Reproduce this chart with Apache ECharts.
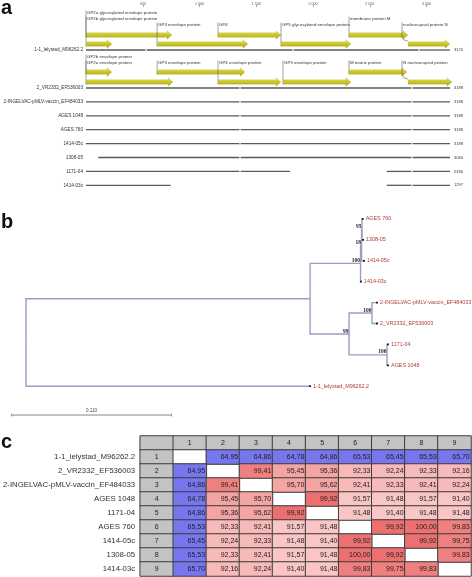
<!DOCTYPE html>
<html><head><meta charset="utf-8">
<script src="https://cdn.jsdelivr.net/npm/echarts@6/dist/echarts.min.js"></script>
<style>html,body{margin:0;padding:0;background:#fff}#c{width:472px;height:577px}</style>
</head><body><div id="c"></div>
<script>
// ================= DATA =================
// Panel a: alignment ruler, sequences, coverage segments, gene annotations
const rulerTicks = [500, 1000, 1500, 2000, 2500, 3000];
const seqNames = ['1-1_lelystad_M96262.2','2_VR2332_EF536003','2-INGELVAC-pMLV-vaccin_EF484033','AGES 1048','AGES 760','1414-05c','1308-05','1171-04','1414-03c'];
const seqLengths = [3170, 3188, 3188, 3188, 3188, 3188, 3084, 2336, 1297];
const seqSegments = [
  [[0,524],[534,1819],[1829,2929],[2939,3207]],
  [[0,1352],[1362,2867],[2877,3207]],
  [[0,1352],[1362,2867],[2877,3207]],
  [[0,1352],[1362,2867],[2877,3207]],
  [[0,1352],[1362,2867],[2877,3207]],
  [[0,1352],[1362,2867],[2877,3207]],
  [[108,1352],[1362,2867],[2877,3207]],
  [[0,1352],[1362,1797],[2650,2867],[2877,3207]],
  [[0,746],[2650,2867],[2877,3207]]
];
const lelystadGenes = [
  ['GP2a glycosylated envelope protein', 0, 758],
  ['GP2b glycosylated envelope protein', 0, 229],
  ['GP3 envelope protein', 626, 1427],
  ['GP4', 1163, 1718],
  ['GP5 glycosylated envelope protein', 1718, 2335],
  ['membrane protein M', 2317, 2837],
  ['nucleocapsid protein N', 2837, 3207]
];
const vr2332Genes = [
  ['GP2b envelope protein', 0, 229],
  ['GP2a envelope protein', 0, 767],
  ['GP3 envelope protein', 626, 1401],
  ['GP4 envelope protein', 1163, 1718],
  ['GP5 envelope protein', 1736, 2335],
  ['M matrix protein', 2317, 2828],
  ['N nucleocapsid protein', 2837, 3225]
];

// Panel b: phylogenetic tree
const treeLeaves = ['AGES 760','1308-05','1414-05c','1414-03c','2-INGELVAC-pMLV-vaccin_EF484033','2_VR2332_EF536003','1171-04','AGES 1048','1-1_lelystad_M96262.2'];
const treeLeafDepth = [0.2315, 0.2317, 0.2324, 0.2303, 0.2413, 0.2413, 0.2489, 0.2489, 0.1953];
const treeChildren = [['L0','L1'], ['N0','L2'], ['N1','L3'], ['L4','L5'], ['L6','L7'], ['N3','N4'], ['N2','N5'], ['N6','L8']];
const treeNodeDepth = [0.2310, 0.2307, 0.2300, 0.2379, 0.2482, 0.2221, 0.1953, 0];
const treeBootstrap = [95, 18, 100, 100, 100, 99, null, null];
const scaleBarLength = 0.110;
const scaleBarLabel = '0,110';

// Panel c: identity table
const tableNames = ['1-1_lelystad_M96262.2','2_VR2332_EF536003','2-INGELVAC-pMLV-vaccin_EF484033','AGES 1048','1171-04','AGES 760','1414-05c','1308-05','1414-03c'];
const identity = [
  [null,64.95,64.86,64.78,64.86,65.53,65.45,65.53,65.70],
  [64.95,null,99.41,95.45,95.36,92.33,92.24,92.33,92.16],
  [64.86,99.41,null,95.70,95.62,92.41,92.33,92.41,92.24],
  [64.78,95.45,95.70,null,99.92,91.57,91.48,91.57,91.40],
  [64.86,95.36,95.62,99.92,null,91.48,91.40,91.48,91.48],
  [65.53,92.33,92.41,91.57,91.48,null,99.92,100.00,99.83],
  [65.45,92.24,92.33,91.48,91.40,99.92,null,99.92,99.75],
  [65.53,92.33,92.41,91.57,91.48,100.00,99.92,null,99.83],
  [65.70,92.16,92.24,91.40,91.48,99.83,99.75,99.83,null]
];

// ================= LAYOUT / STYLE =================
const FONT = '"Liberation Sans", Arial, sans-serif';
const PX_PER_BP = 0.1135;
const A_MAX = 3230;
const seqRowY = seqNames.map((n, i) => i === 0 ? 50 : 88 + (i - 1) * 13.9);
const genomeTracks = [
  {genes: lelystadGenes, laneY: [35, 44], levelY: [13, 19, 25], lanes: [0,1,1,0,1,0,1], levels: [0,1,2,2,2,1,2]},
  {genes: vr2332Genes, laneY: [72, 82], levelY: [57, 63], lanes: [0,1,0,1,1,0,1], levels: [0,1,1,1,1,1,1]}
];
const TREE_PX_PER_UNIT = 160 / 0.110;
const TREE_XMIN = -0.01, TREE_XMAX = 0.30;
const TREE_ROW = 20.9, TREE_YMIN = -0.5, TREE_YMAX = 9.8;
const SCALE_BAR_ROW = 9.38;

// ================= BUILD =================
const seqLineData = [];
seqSegments.forEach((segs, i) => segs.forEach(s => seqLineData.push([s[0], s[1], i])));
const geneData = [];
genomeTracks.forEach((t, ti) => t.genes.forEach((g, k) => geneData.push([g[1], g[2], ti, k])));

const nodeX = {}, nodeY = {};
treeLeaves.forEach((n, i) => { nodeX['L' + i] = treeLeafDepth[i]; nodeY['L' + i] = i; });
function placeNode(k) {
  if (nodeY['N' + k] !== undefined) return;
  const ch = treeChildren[k];
  ch.forEach(c => { if (c[0] === 'N') placeNode(+c.slice(1)); });
  nodeX['N' + k] = treeNodeDepth[k];
  nodeY['N' + k] = (nodeY[ch[0]] + nodeY[ch[ch.length - 1]]) / 2;
}
treeChildren.forEach((_, k) => placeNode(k));
const treeEdges = [];
treeChildren.forEach((ch, k) => ch.forEach(c => treeEdges.push({
  coords: [[nodeX['N' + k], nodeY['N' + k]], [nodeX['N' + k], nodeY[c]], [nodeX[c], nodeY[c]]]
})));
const bootData = [];
treeBootstrap.forEach((b, k) => { if (b !== null) bootData.push([nodeX['N' + k], nodeY['N' + k], b]); });

const headerData = [[0, 0, 0]];
for (let j = 1; j <= 9; j++) headerData.push([j, 0, j]);
for (let i = 1; i <= 9; i++) headerData.push([0, i, i]);
const diagData = [], valueData = [];
identity.forEach((row, i) => row.forEach((v, j) => {
  if (v === null) diagData.push([j + 1, i + 1, 0]);
  else valueData.push([j + 1, i + 1, v]);
}));

const chart = echarts.init(document.getElementById('c'));
const arrowFill = new echarts.graphic.LinearGradient(0, 0, 0, 1, [
  {offset: 0, color: '#e6e37a'}, {offset: 0.45, color: '#cdc92c'}, {offset: 1, color: '#aaa410'}
]);

chart.setOption({
  animation: false,
  grid: [
    {left: 86, top: 7, width: A_MAX * PX_PER_BP, height: 183},
    {left: 26 + TREE_XMIN * TREE_PX_PER_UNIT, top: 219 + TREE_YMIN * TREE_ROW,
     width: (TREE_XMAX - TREE_XMIN) * TREE_PX_PER_UNIT, height: (TREE_YMAX - TREE_YMIN) * TREE_ROW},
    {left: 133, top: 436, width: 338, height: 140}
  ],
  xAxis: [
    {gridIndex: 0, type: 'value', position: 'top', min: 0, max: A_MAX,
     axisLine: {show: false}, splitLine: {show: false},
     axisTick: {show: true, customValues: rulerTicks, length: 2, lineStyle: {color: '#666', width: 0.6}},
     axisLabel: {customValues: rulerTicks, fontSize: 3.6, color: '#555', margin: 1, fontFamily: FONT,
       formatter: v => String(v).replace(/(\d)(\d{3})$/, '$1 $2')}},
    {gridIndex: 1, type: 'value', min: TREE_XMIN, max: TREE_XMAX, show: false},
    {gridIndex: 2, type: 'category', data: ['', '1','2','3','4','5','6','7','8','9'], show: false}
  ],
  yAxis: [
    {gridIndex: 0, type: 'value', min: 7, max: 190, inverse: true, show: false},
    {gridIndex: 1, type: 'value', min: TREE_YMIN, max: TREE_YMAX, inverse: true, show: false},
    {gridIndex: 2, type: 'category', data: [''].concat(tableNames), inverse: true,
     axisLine: {show: false}, axisTick: {show: false}, splitLine: {show: false},
     axisLabel: {fontSize: 7.8, color: '#333', margin: 5, fontFamily: FONT}}
  ],
  visualMap: {
    type: 'piecewise', show: false, seriesIndex: 9, dimension: 2,
    pieces: [
      {lt: 70, color: '#7676ee'},
      {gte: 90, lt: 92, color: '#fac5c5'},
      {gte: 92, lt: 94, color: '#f8b9b9'},
      {gte: 94, lt: 97, color: '#f5a4a4'},
      {gte: 97, lt: 99.9, color: '#f08080'},
      {gte: 99.9, color: '#ec7070'}
    ]
  },
  graphic: [
    {type: 'text', style: {x: 1, y: 18, text: 'a', font: 'bold 20px ' + FONT, fill: '#111', textVerticalAlign: 'bottom'}},
    {type: 'text', style: {x: 1, y: 232, text: 'b', font: 'bold 20px ' + FONT, fill: '#111', textVerticalAlign: 'bottom'}},
    {type: 'text', style: {x: 1, y: 452, text: 'c', font: 'bold 20px ' + FONT, fill: '#111', textVerticalAlign: 'bottom'}}
  ],
  series: [
    // 0 sequence coverage lines
    {type: 'custom', xAxisIndex: 0, yAxisIndex: 0, data: seqLineData, silent: true,
     renderItem: (params, api) => {
       const y = seqRowY[api.value(2)];
       const a = api.coord([api.value(0), y]), b = api.coord([api.value(1), y]);
       return {type: 'line', shape: {x1: a[0], y1: a[1], x2: b[0], y2: b[1]}, style: {stroke: '#5a5a5a', lineWidth: 1.3}};
     }},
    // 1 sequence names and lengths
    {type: 'custom', xAxisIndex: 0, yAxisIndex: 0, data: seqNames.map((n, i) => [0, i]), silent: true,
     renderItem: (params, api) => {
       const i = api.value(1);
       const a = api.coord([0, seqRowY[i]]), b = api.coord([A_MAX, seqRowY[i]]);
       return {type: 'group', children: [
         {type: 'text', style: {x: a[0] - 3, y: a[1], text: seqNames[i], font: '4.7px ' + FONT, fill: '#333', textAlign: 'right', textVerticalAlign: 'middle'}},
         {type: 'text', style: {x: b[0] + 1.5, y: b[1], text: String(seqLengths[i]), font: '4px ' + FONT, fill: '#333', textAlign: 'left', textVerticalAlign: 'middle'}}
       ]};
     }},
    // 2 gene annotation arrows
    {type: 'custom', xAxisIndex: 0, yAxisIndex: 0, data: geneData, silent: true,
     renderItem: (params, api) => {
       const t = genomeTracks[api.value(2)], k = api.value(3);
       const g = t.genes[k];
       const yv = t.laneY[t.lanes[k]], lyv = t.levelY[t.levels[k]];
       const p0 = api.coord([api.value(0), yv]), p1 = api.coord([api.value(1), yv]);
       const ly = api.coord([0, lyv])[1];
       const x0 = p0[0], x1 = p1[0], y = p0[1];
       const hl = Math.min(5, (x1 - x0) * 0.4);
       const hook = /nucleocapsid/.test(g[0]);
       const lx = hook ? x0 - 6 : x0;
       const leader = hook
         ? {type: 'polyline', shape: {points: [[lx, ly - 2.5], [lx, y - 7], [lx + 2, y - 4], [x0, y - 3]]}, style: {stroke: '#444', lineWidth: 0.5, fill: null}}
         : {type: 'line', shape: {x1: x0, y1: ly - 2.5, x2: x0, y2: y + 2.3}, style: {stroke: '#444', lineWidth: 0.5}};
       return {type: 'group', children: [
         leader,
         {type: 'polygon', shape: {points: [[x0, y - 2.3], [x1 - hl, y - 2.3], [x1 - hl, y - 4.3], [x1, y], [x1 - hl, y + 4.3], [x1 - hl, y + 2.3], [x0, y + 2.3]]},
          style: {fill: arrowFill, stroke: 'rgba(150,145,0,0.6)', lineWidth: 0.3}},
         {type: 'text', style: {x: lx + 1, y: ly, text: g[0], font: '4.4px ' + FONT, fill: '#333', textAlign: 'left', textVerticalAlign: 'middle'}}
       ]};
     }},
    // 3 tree branches
    {type: 'lines', coordinateSystem: 'cartesian2d', xAxisIndex: 1, yAxisIndex: 1, polyline: true, silent: true,
     data: treeEdges, lineStyle: {color: '#9c9cc6', width: 1.4, opacity: 1}},
    // 4 tree leaves
    {type: 'custom', xAxisIndex: 1, yAxisIndex: 1, silent: true,
     data: treeLeaves.map((n, i) => [treeLeafDepth[i], i]),
     renderItem: (params, api) => {
       const p = api.coord([api.value(0), api.value(1)]);
       return {type: 'group', children: [
         {type: 'rect', shape: {x: p[0] - 0.9, y: p[1] - 0.9, width: 1.8, height: 1.8}, style: {fill: '#111'}},
         {type: 'text', style: {x: p[0] + 3, y: p[1], text: treeLeaves[api.value(1)], font: '5.4px ' + FONT, fill: '#b23a3a', textAlign: 'left', textVerticalAlign: 'middle'}}
       ]};
     }},
    // 5 bootstrap values
    {type: 'custom', xAxisIndex: 1, yAxisIndex: 1, silent: true, data: bootData,
     renderItem: (params, api) => {
       const p = api.coord([api.value(0), api.value(1)]);
       return {type: 'text', style: {x: p[0] - 0.5, y: p[1] - 2.8, text: String(api.value(2)), font: 'bold 5.5px "Liberation Serif", serif', fill: '#222', textAlign: 'right', textVerticalAlign: 'middle'}};
     }},
    // 6 scale bar
    {type: 'custom', xAxisIndex: 1, yAxisIndex: 1, silent: true, data: [[TREE_XMIN, TREE_XMIN + scaleBarLength]],
     renderItem: (params, api) => {
       const a = api.coord([api.value(0), SCALE_BAR_ROW]), b = api.coord([api.value(1), SCALE_BAR_ROW]);
       return {type: 'group', children: [
         {type: 'line', shape: {x1: a[0], y1: a[1], x2: b[0], y2: b[1]}, style: {stroke: '#666', lineWidth: 0.8}},
         {type: 'line', shape: {x1: a[0], y1: a[1] - 1.5, x2: a[0], y2: a[1] + 1.5}, style: {stroke: '#666', lineWidth: 0.6}},
         {type: 'line', shape: {x1: b[0], y1: b[1] - 1.5, x2: b[0], y2: b[1] + 1.5}, style: {stroke: '#666', lineWidth: 0.6}},
         {type: 'text', style: {x: (a[0] + b[0]) / 2, y: a[1] - 4, text: scaleBarLabel, font: '4.5px ' + FONT, fill: '#444', textAlign: 'center', textVerticalAlign: 'middle'}}
       ]};
     }},
    // 7 table headers
    {type: 'heatmap', xAxisIndex: 2, yAxisIndex: 2, data: headerData, silent: true,
     itemStyle: {color: '#c3c3c3', borderColor: '#3c3c3c', borderWidth: 1},
     label: {show: true, fontSize: 7, color: '#222', fontFamily: FONT, formatter: p => p.value[2] ? String(p.value[2]) : ''}},
    // 8 diagonal (empty) cells
    {type: 'heatmap', xAxisIndex: 2, yAxisIndex: 2, data: diagData, silent: true,
     itemStyle: {color: '#ffffff', borderColor: '#3c3c3c', borderWidth: 1},
     label: {show: false}},
    // 9 identity values
    {type: 'heatmap', xAxisIndex: 2, yAxisIndex: 2, data: valueData, silent: true,
     itemStyle: {borderColor: '#3c3c3c', borderWidth: 1},
     label: {show: true, position: 'insideRight', distance: 2, fontSize: 7, color: '#222', fontFamily: FONT,
       formatter: p => p.value[2].toFixed(2).replace('.', ',')}}
  ]
});
</script>
</body></html>
